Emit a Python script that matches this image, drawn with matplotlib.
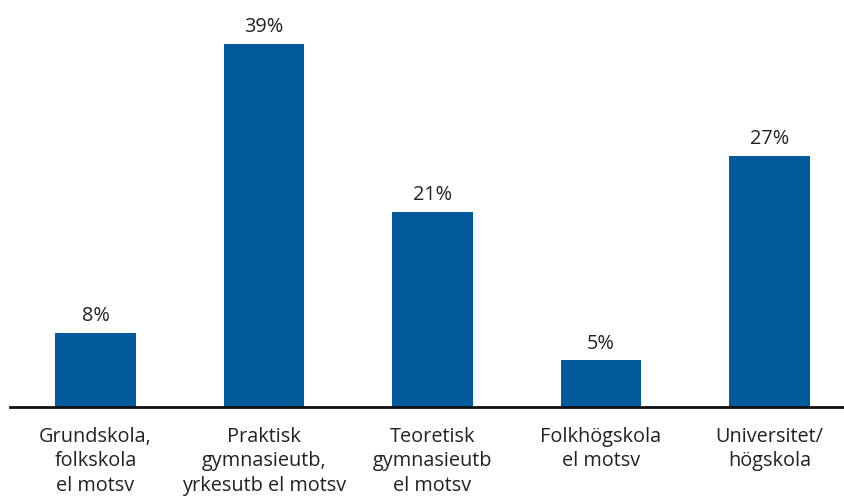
import matplotlib
matplotlib.use("Agg")
import matplotlib.pyplot as plt

categories = ["Grundskola,\nfolkskola\nel motsv",
              "Praktisk\ngymnasieutb,\nyrkesutb el motsv",
              "Teoretisk\ngymnasieutb\nel motsv",
              "Folkhögskola\nel motsv",
              "Universitet/\nhögskola"]
values = [8, 39, 21, 5, 27]
value_labels = ["8%", "39%", "21%", "5%", "27%"]

plt.rcParams['font.family'] = ['Open Sans', 'DejaVu Sans']

fig = plt.figure(figsize=(8.44, 4.98), dpi=100)
ax = fig.add_axes([10/844, 91/498, 834/844, 407/498])
x = list(range(len(values)))
bars = ax.bar(x, values, width=0.48, color="#005a9c", zorder=2)
ax.set_xlim(-0.507, 4.442)
ax.set_ylim(0, 43.76)

for xi, v, lab in zip(x, values, value_labels):
    ax.text(xi, v + 0.75, lab, ha="center", va="bottom", fontsize=14.3, color="#222222")

for xi, c in zip(x, categories):
    ax.text(xi, -2.1, c, ha="center", va="top", fontsize=14.3, color="#222222",
            linespacing=1.3)

for s in ["top", "right", "left"]:
    ax.spines[s].set_visible(False)
ax.spines["bottom"].set_linewidth(2)
ax.spines["bottom"].set_color("#111111")
ax.set_xticks([])
ax.set_yticks([])

fig.savefig("out.png", dpi=100)
